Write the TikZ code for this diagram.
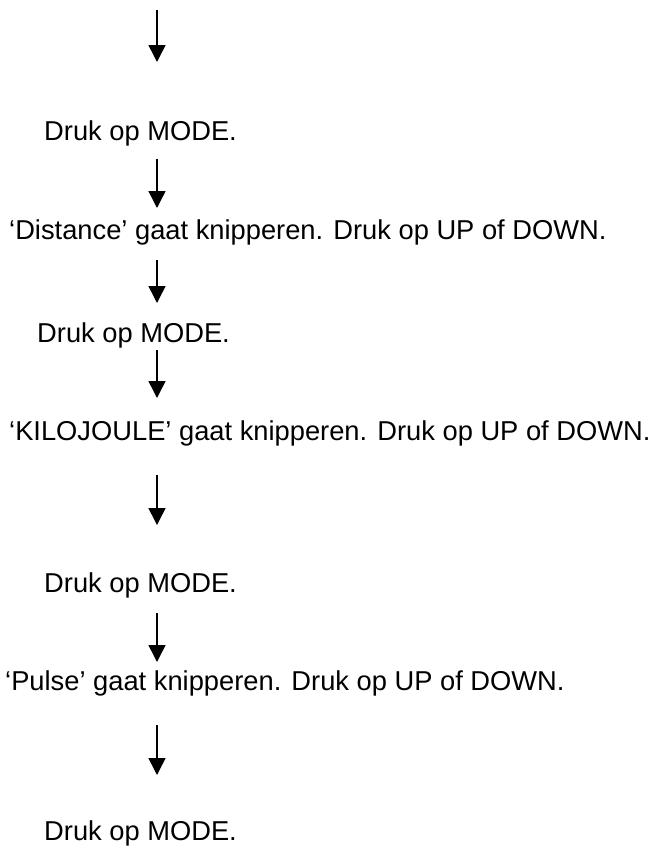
\documentclass[tikz,border=0pt]{standalone}
\usepackage{fontspec}
\setmainfont{Liberation Sans}
\usetikzlibrary{arrows.meta}
\begin{document}
\begin{tikzpicture}[x=1pt,y=-1pt,
  txt/.style={anchor=west,inner sep=0pt,font=\fontsize{27.3}{30}\selectfont},
  arr/.style={-{Triangle[length=17pt,width=17pt]},line width=1.5pt}]
\useasboundingbox (0,0) rectangle (656,854);
\coordinate (a1) at (157,10);  \coordinate (b1) at (157,62);
\node[txt] (t1) at (44,133) {Druk op MODE.};
\coordinate (a2) at (157,159); \coordinate (b2) at (157,208);
\node[txt] (t2) at (9,232) {‘Distance' gaat knipperen. Druk op UP of DOWN.};
\coordinate (a3) at (157,260); \coordinate (b3) at (157,303);
\node[txt] (t3) at (37,335) {Druk op MODE.};
\coordinate (a4) at (157,350); \coordinate (b4) at (157,398);
\node[txt] (t4) at (9,433) {‘KILOJOULE' gaat knipperen. Druk op UP of DOWN.};
\coordinate (a5) at (157,475); \coordinate (b5) at (157,525);
\node[txt] (t5) at (44,585) {Druk op MODE.};
\coordinate (a6) at (157,613); \coordinate (b6) at (157,662);
\node[txt] (t6) at (5,683) {`Pulse' gaat knipperen. Druk op UP of DOWN.};
\coordinate (a7) at (157,725); \coordinate (b7) at (157,775);
\node[txt] (t7) at (44,833) {Druk op MODE.};
\foreach \i in {1,...,7} \draw[arr] (a\i) -- (b\i);
\end{tikzpicture}
\end{document}
